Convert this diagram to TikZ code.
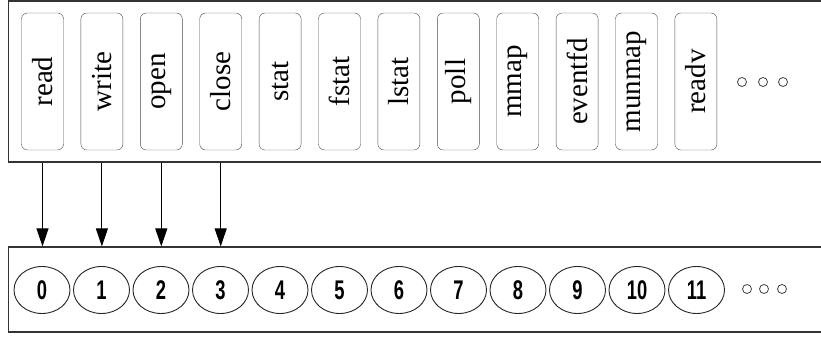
\documentclass[tikz,border=0pt]{standalone}
\usepackage{fontspec}
\setmainfont{Liberation Serif}
\newfontfamily\numfont{Liberation Sans}[FakeStretch=0.68]
\usetikzlibrary{
    positioning,
    arrows.meta,
    shapes.geometric,
}
\tikzset{
    % Node styles
    syscall/.style={rectangle, draw=black!70, rounded corners=6pt, rotate=90,
                    minimum width=137pt, minimum height=42pt, inner sep=0pt,
                    font=\fontsize{29}{29}\selectfont},
    slot/.style={ellipse, draw=black!85, line width=0.9pt, minimum width=56pt,
                 minimum height=47pt, inner sep=0pt,
                 font=\numfont\bfseries\fontsize{27}{27}\selectfont},
    table box/.style={rectangle, draw=black!80, line width=1.2pt, minimum width=830pt,
                      anchor=west},
    dot/.style={circle, draw=black!75, line width=0.8pt, minimum size=9pt, inner sep=0pt},
    % Arrow styles
    arrow/.style={-{Triangle[length=18pt, width=12pt]}, line width=1pt},
}

\begin{document}
\begin{tikzpicture}[x=1pt, y=1pt]
    \clip (0,0) rectangle (821,337);

    % Tables
    \node[table box, minimum height=161pt] (calls) at (8, 255.5) {};
    \node[table box, minimum height=85pt] (fds) at (8, 47.5) {};

    % System calls
    \foreach \n [count=\i from 0] in {read, write, open, close, stat, fstat, lstat, poll, mmap, eventfd, munmap, readv} {
        \node[syscall] (c\i) at (42.5+59.4*\i, 255.5) {\n};
    }
    \foreach \k/\x in {0/742, 1/763, 2/783} {
        \node[dot] (cd\k) at (\x, 255) {};
    }

    % Numbers
    \foreach \i in {0,...,11} {
        \node[slot] (f\i) at (42+59.5*\i, 47) {\i};
    }
    \foreach \k/\x in {0/747, 1/764, 2/782} {
        \node[dot] (fd\k) at (\x, 48) {};
    }

    % Links
    \foreach \i in {0,...,3} {
        \draw[arrow] (c\i |- calls.south) -- (c\i |- fds.north);
    }
\end{tikzpicture}
\end{document}
